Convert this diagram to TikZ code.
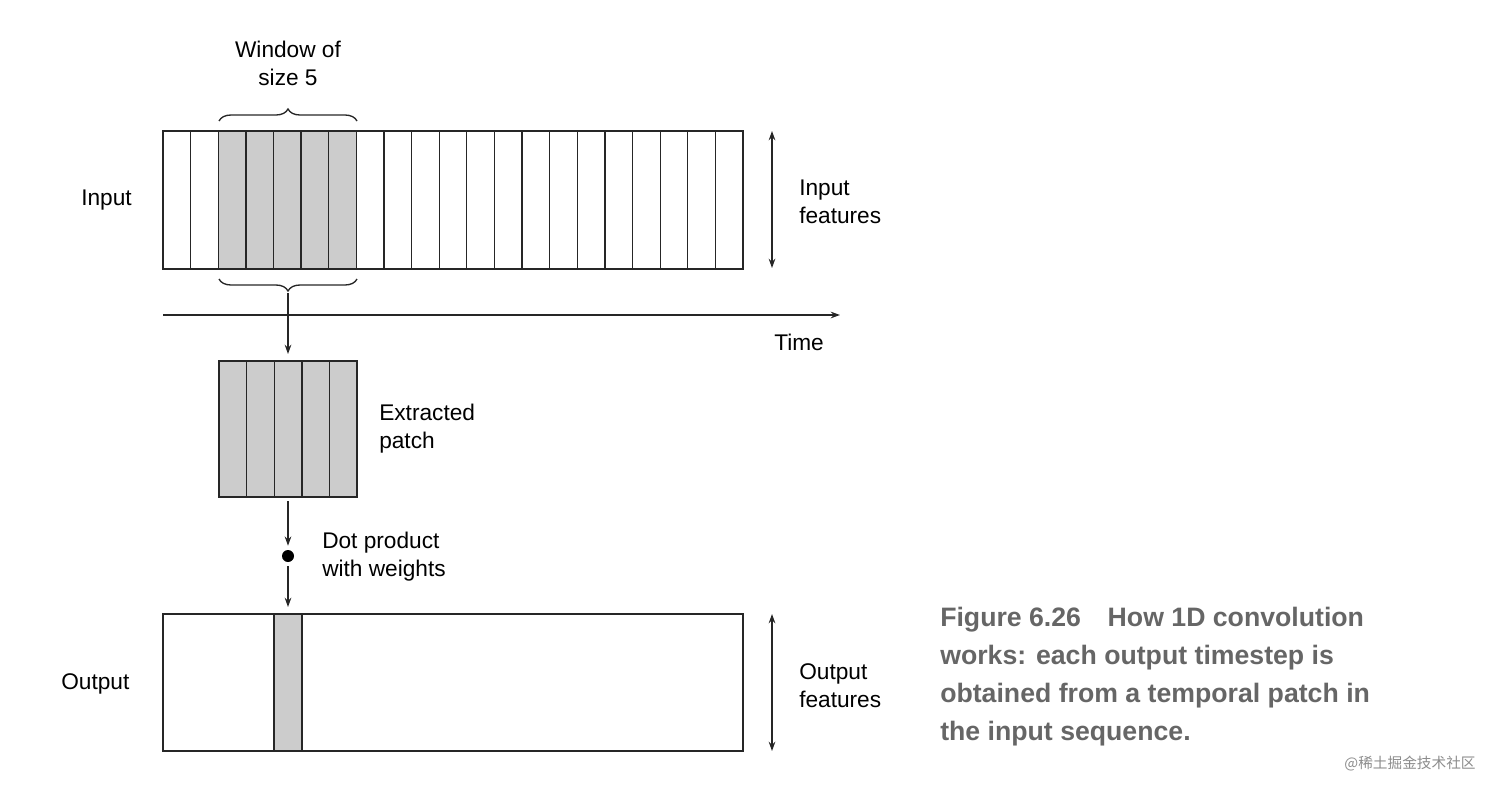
\documentclass[tikz,border=0pt]{standalone}
\usepackage{fontspec}
\setmainfont{Liberation Sans}
\newfontfamily\cjk{Noto Sans CJK SC}
\usetikzlibrary{decorations.pathreplacing,arrows.meta}
\begin{document}
\begin{tikzpicture}[x=0.75pt,y=-0.75pt,
  lbl/.style={font=\fontsize{17}{21}\selectfont,align=left,anchor=west,inner sep=0},
  ln/.style={line width=1pt,black!85},
  arr/.style={ln,-{Stealth[length=7pt,width=5pt]}},
  darr/.style={ln,{Stealth[length=7pt,width=5pt]}-{Stealth[length=7pt,width=5pt]}},
  br/.style={ln,decorate,decoration={brace,amplitude=9pt}}]
\useasboundingbox (0,0) rectangle (1512,796);
% input grid
\foreach \i in {2,...,6}{\fill[gray!40] (163+\i*27.62,131) rectangle (163+\i*27.62+27.62,269);}
\foreach \i in {1,...,20}{\draw[ln] (163+\i*27.62,131) -- (163+\i*27.62,269);}
\draw[ln] (163,131) rectangle (743,269);
\node[lbl] (inp) at (81,200) {Input};
\node[lbl] (inf) at (799,202) {Input\\features};
\coordinate (ia) at (772,131); \coordinate (ib) at (772,268);
\draw[darr] (ia) -- (ib);
% braces
\draw[br] (219,121) -- (357,121);
\node[lbl,anchor=center,align=center] (win) at (288,63) {Window of\\size 5};
\draw[br] (357,279) -- (219,279);
% time
\coordinate (t0) at (163,315); \coordinate (t1) at (840,315);
\draw[arr] (t0) -- (t1);
\node[lbl] (time) at (774,342) {Time};
% patch
\fill[gray!40] (219,361) rectangle (357,497);
\foreach \i in {1,...,4}{\draw[ln] (219+\i*27.62,361) -- (219+\i*27.62,497);}
\draw[ln] (219,361) rectangle (357,497);
\node[lbl] (ep) at (379,429) {Extracted\\patch};
\coordinate (b0) at (288,293); \coordinate (b1) at (288,354);
\draw[arr] (b0) -- (b1);
\node[circle,fill=black,inner sep=0,minimum size=9pt] (dot) at (288,556) {};
\coordinate (p0) at (288,501);
\draw[arr] (p0) -- ([yshift=3pt]dot.north);
\coordinate (o1) at (288,607);
\draw[arr] ([yshift=-3pt]dot.south) -- (o1);
\node[lbl] (dp) at (322,557) {Dot product\\with weights};
% output
\fill[gray!40] (274,614) rectangle (302,751);
\draw[ln] (274,614) -- (274,751) (302,614) -- (302,751);
\draw[ln] (163,614) rectangle (743,751);
\node[lbl] (out) at (61,684) {Output};
\node[lbl] (of) at (799,686) {Output\\features};
\coordinate (oa) at (772,614); \coordinate (ob) at (772,751);
\draw[darr] (oa) -- (ob);
% caption
\node[anchor=north west,inner sep=0,align=left,text=black!60,font=\fontsize{20}{28.5}\selectfont\bfseries] (cap) at (940,607) {Figure 6.26\quad How 1D convolution\\works: each output timestep is\\obtained from a temporal patch in\\the input sequence.};
\node[anchor=center,inner sep=0,text=black!45,font=\fontsize{11}{13}\cjk] (wm) at (1410,764) {@稀土掘金技术社区};
\end{tikzpicture}
\end{document}
